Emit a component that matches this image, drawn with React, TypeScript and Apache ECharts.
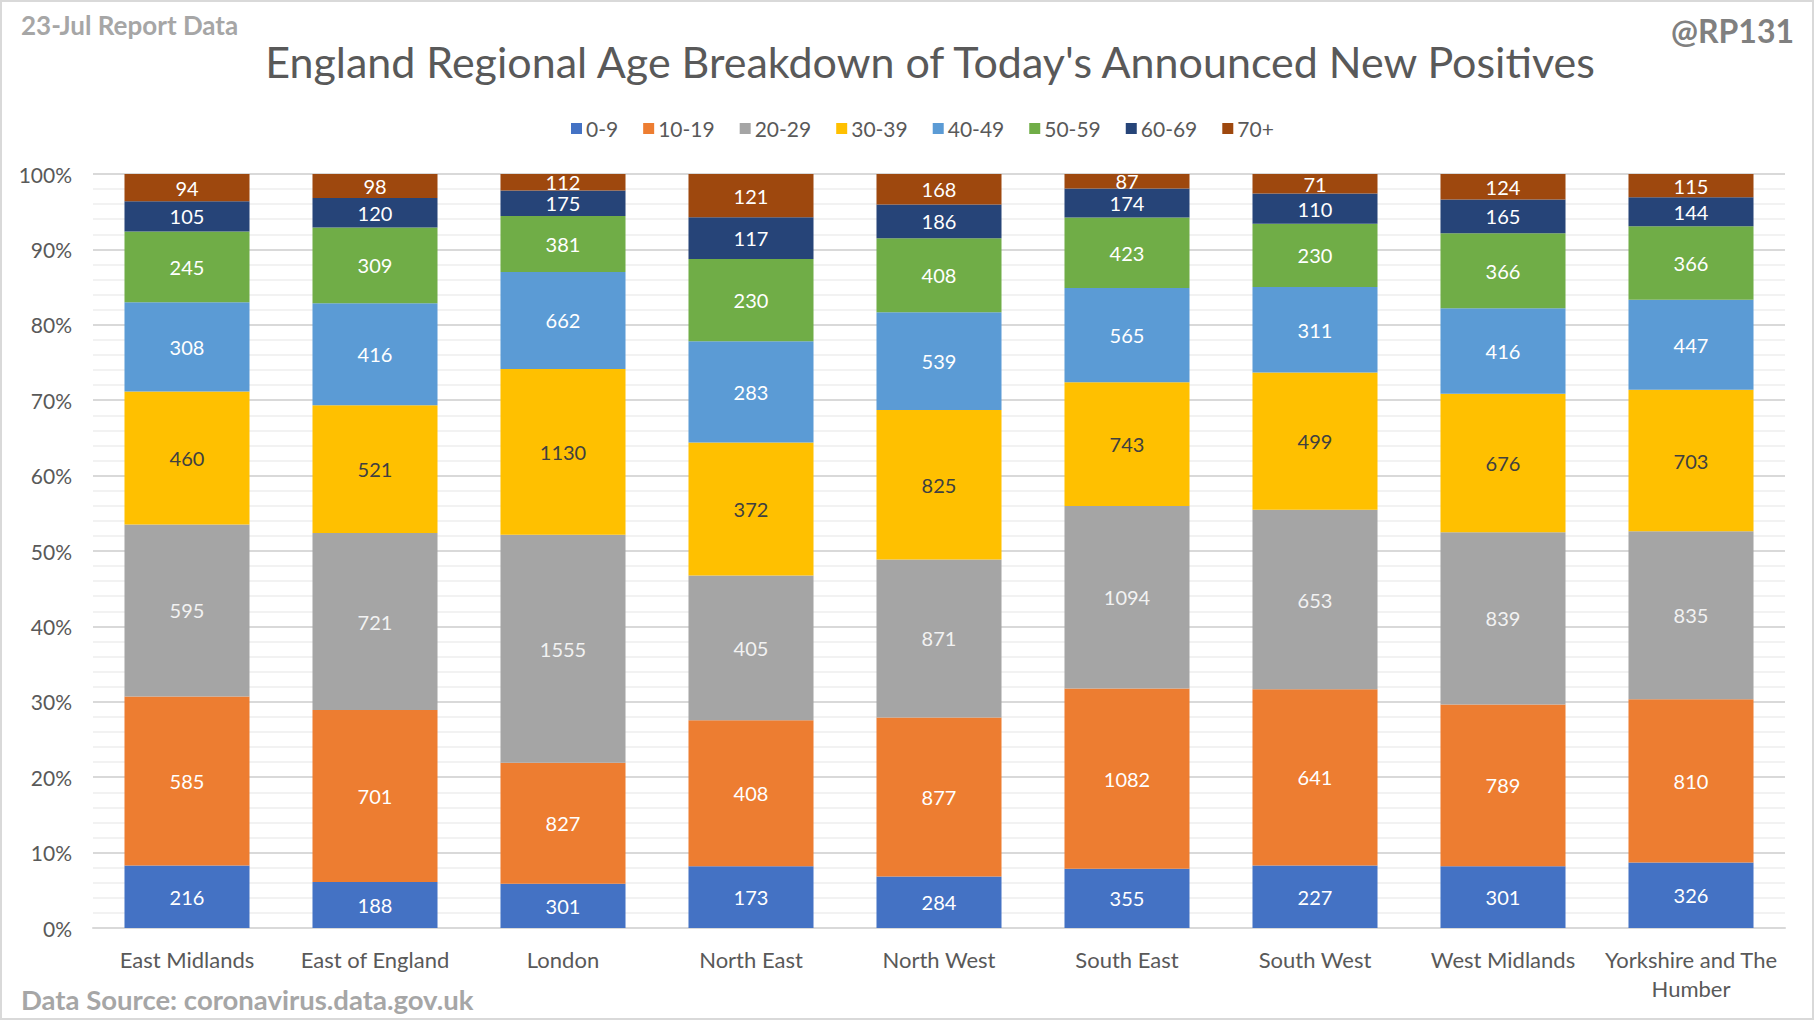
import React, { useEffect, useRef } from "react";
import * as echarts from "echarts";

const regions = [
  "East Midlands",
  "East of England",
  "London",
  "North East",
  "North West",
  "South East",
  "South West",
  "West Midlands",
  "Yorkshire and The Humber",
];

const ageGroups = ["0-9", "10-19", "20-29", "30-39", "40-49", "50-59", "60-69", "70+"];

const age0to9 = [216, 188, 301, 173, 284, 355, 227, 301, 326];
const age10to19 = [585, 701, 827, 408, 877, 1082, 641, 789, 810];
const age20to29 = [595, 721, 1555, 405, 871, 1094, 653, 839, 835];
const age30to39 = [460, 521, 1130, 372, 825, 743, 499, 676, 703];
const age40to49 = [308, 416, 662, 283, 539, 565, 311, 416, 447];
const age50to59 = [245, 309, 381, 230, 408, 423, 230, 366, 366];
const age60to69 = [105, 120, 175, 117, 186, 174, 110, 165, 144];
const age70plus = [94, 98, 112, 121, 168, 87, 71, 124, 115];

const seriesCounts = [age0to9, age10to19, age20to29, age30to39, age40to49, age50to59, age60to69, age70plus];

const colors = ["#4472C4", "#ED7D31", "#A5A5A5", "#FFC000", "#5B9BD5", "#70AD47", "#264478", "#9E480E"];
const labelColors = ["#ffffff", "#ffffff", "#f2f2f2", "#404040", "#ffffff", "#ffffff", "#ffffff", "#ffffff"];

const FONT = "Lato, 'Open Sans', sans-serif";

export default function App() {
  const ref = useRef<HTMLDivElement>(null);

  useEffect(() => {
    document.body.style.margin = "0";
    if (!ref.current) return;
    const chart = echarts.init(ref.current, null, { renderer: "svg" });

    const totals = regions.map((_, i) => seriesCounts.reduce((s, arr) => s + arr[i], 0));

    const series = ageGroups.map((name, k) => ({
      name,
      type: "bar",
      stack: "total",
      barWidth: "66.5%",
      itemStyle: { color: colors[k] },
      label: {
        show: true,
        position: "inside",
        color: labelColors[k],
        fontSize: 20,
        fontFamily: FONT,
        formatter: (p: any) => String(seriesCounts[k][p.dataIndex]),
      },
      data: seriesCounts[k].map((v, i) => (v / totals[i]) * 100),
    }));

    chart.setOption({
      animation: false,
      backgroundColor: "#ffffff",
      textStyle: { fontFamily: FONT },
      grid: { left: 93, right: 31, top: 174, bottom: 94, containLabel: false },
      legend: {
        top: 113,
        left: 566,
        itemWidth: 11,
        itemHeight: 11,
        itemGap: 25,
        icon: "rect",
        textStyle: { fontSize: 21, color: "#595959", fontFamily: FONT, padding: [0, 0, 0, -1] },
        data: ageGroups,
      },
      xAxis: {
        type: "category",
        data: regions,
        axisTick: { show: false },
        axisLine: { show: true, lineStyle: { color: "#d9d9d9", width: 2 } },
        axisLabel: {
          color: "#595959",
          fontSize: 22,
          fontFamily: FONT,
          margin: 17,
          lineHeight: 29,
          interval: 0,
          formatter: (v: string) => v.replace("The Humber", "The\nHumber"),
        },
      },
      yAxis: {
        type: "value",
        min: 0,
        max: 100,
        interval: 10,
        axisLabel: {
          formatter: "{value}%",
          color: "#595959",
          fontSize: 21,
          fontFamily: FONT,
          margin: 21,
        },
        axisLine: { show: false },
        axisTick: { show: false },
        splitLine: { show: true, lineStyle: { color: "#d9d9d9", width: 2 } },
        minorTick: { show: false, splitNumber: 5 },
        minorSplitLine: { show: true, lineStyle: { color: "#f2f2f2", width: 2 } },
      },
      series,
      graphic: [
        {
          type: "rect",
          silent: true,
          shape: { x: 1, y: 1, width: 1812, height: 1018 },
          style: { fill: "none", stroke: "#d9d9d9", lineWidth: 2 },
        },
        {
          type: "text",
          left: 21,
          top: 12,
          style: {
            text: "23-Jul Report Data",
            fill: "#a6a6a6",
            font: `bold 26px ${FONT}`,
          },
        },
        {
          type: "text",
          right: 22,
          top: 14,
          style: {
            text: "@RP131",
            fill: "#808080",
            font: `bold 32px ${FONT}`,
          },
        },
        {
          type: "text",
          x: 930,
          y: 61,
          style: {
            text: "England Regional Age Breakdown of Today's Announced New Positives",
            fill: "#595959",
            font: `43px ${FONT}`,
            textAlign: "center",
            textVerticalAlign: "middle",
          },
        },
        {
          type: "text",
          left: 21,
          top: 985,
          style: {
            text: "Data Source: coronavirus.data.gov.uk",
            fill: "#a6a6a6",
            font: `bold 27.5px ${FONT}`,
          },
        },
      ],
    });

    return () => chart.dispose();
  }, []);

  return <div ref={ref} style={{ width: 1816, height: 1022 }} />;
}
